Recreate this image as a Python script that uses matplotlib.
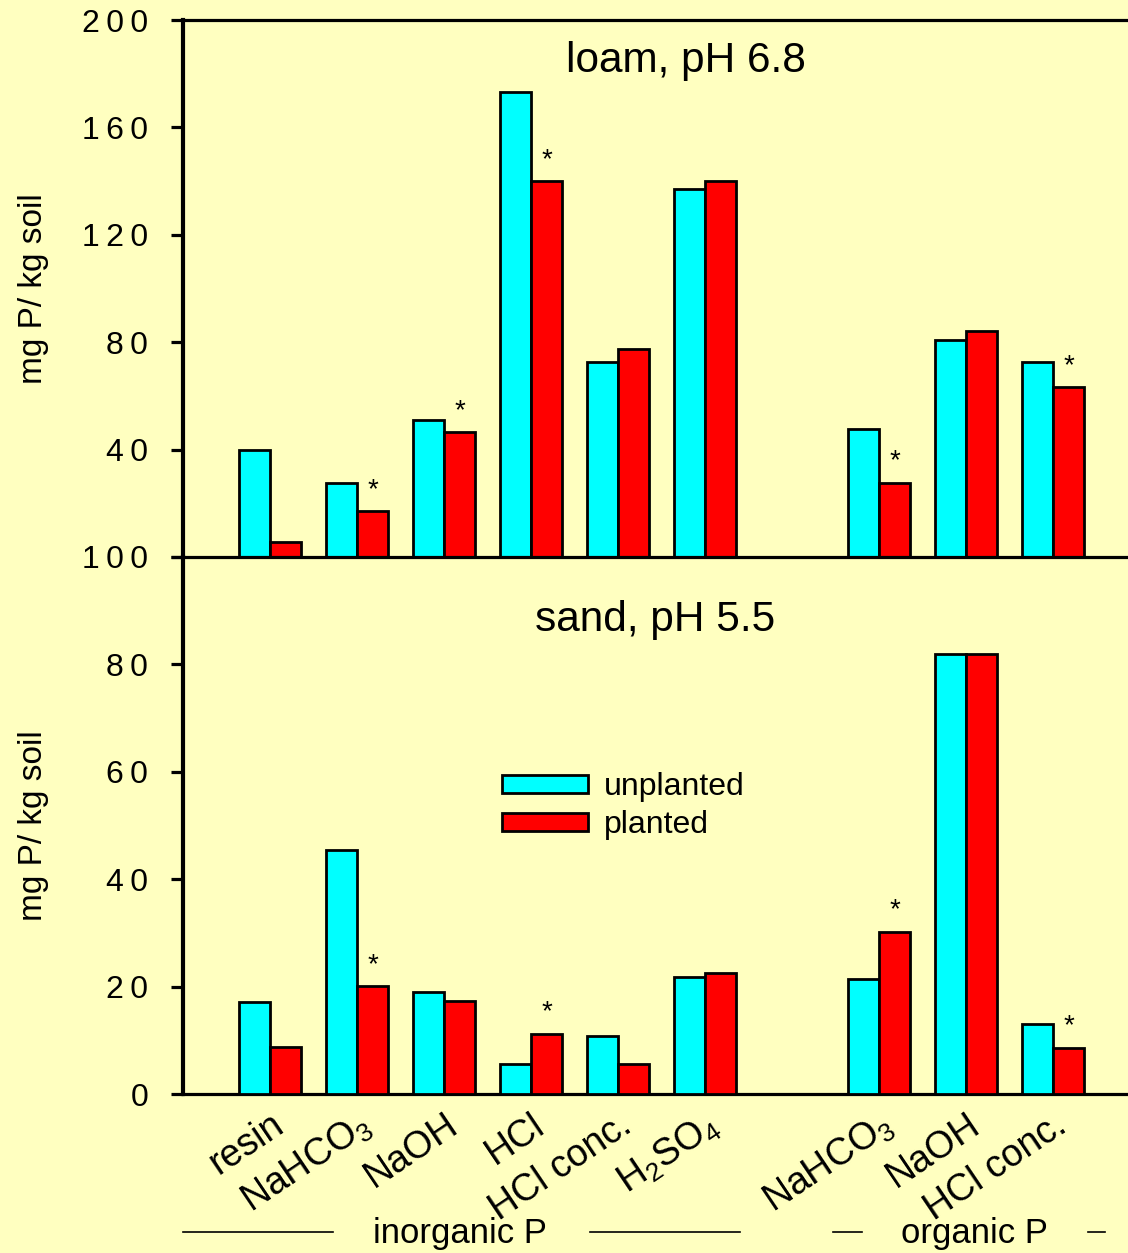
import numpy as np
import matplotlib
matplotlib.use("Agg")
import matplotlib.pyplot as plt
from matplotlib.transforms import blended_transform_factory

plt.rcParams['font.family'] = ['Liberation Sans', 'DejaVu Sans']
plt.rcParams['mathtext.fontset'] = 'custom'
plt.rcParams['mathtext.rm'] = 'Liberation Sans'
plt.rcParams['mathtext.it'] = 'Liberation Sans'

# fractions, position index (slot 6 is left empty between the two groups)
labels = ['resin', 'NaHCO$_3$', 'NaOH', 'HCl', 'HCl conc.', 'H$_2$SO$_4$',
          'NaHCO$_3$', 'NaOH', 'HCl conc.']
slots = [0, 1, 2, 3, 4, 5, 7, 8, 9]

# loam, pH 6.8
loam_unpl = [40, 27.6, 51, 173, 72.5, 137, 47.7, 81, 72.7]
loam_pl = [5.5, 17, 46.5, 140, 77.5, 140, 27.6, 84, 63.3]
loam_sig = [False, True, True, True, False, False, True, False, True]

# sand, pH 5.5
sand_unpl = [17.1, 45.4, 19, 5.5, 10.8, 21.8, 21.4, 82, 13]
sand_pl = [8.7, 20.1, 17.4, 11.2, 5.5, 22.6, 30.2, 82, 8.6]
sand_sig = [False, True, False, True, False, False, True, False, True]

bg = '#FFFFC0'
W, H = 1128, 1253
fig = plt.figure(figsize=(W / 100, H / 100), dpi=100, facecolor=bg)

left = 183 / W
ax1 = fig.add_axes([left, 1 - 557 / H, 1 - left, 537 / H])
ax2 = fig.add_axes([left, 1 - 1094 / H, 1 - left, 537 / H])

bw = 0.36
x = np.array(slots)


def spaced(v):
    # tick labels in the original are drawn with wide letter spacing
    return '\u2009'.join(str(v))


def panel(ax, unpl, pl, sig, ymax, step, title, tx, ty):
    ax.set_facecolor(bg)
    ax.bar(x - bw / 2, unpl, bw, color='#00FFFF', edgecolor='black', lw=2,
           label='unplanted', zorder=3)
    ax.bar(x + bw / 2, pl, bw, color='#FF0000', edgecolor='black', lw=2,
           label='planted', zorder=3)
    for xi, v, s in zip(x, pl, sig):
        if s:
            ax.annotate('*', (xi + bw / 2, v), xytext=(0, 6),
                        textcoords='offset points', ha='center', va='bottom',
                        fontsize=20)
    ax.set_xlim(-1, 9.86)
    ax.set_ylim(0, ymax)
    ticks = np.arange(0, ymax + 1, step)
    ax.set_yticks(ticks, [spaced(t) for t in ticks])
    ax.spines['right'].set_visible(False)
    ax.spines['left'].set_linewidth(3)
    ax.spines['top'].set_linewidth(2.3)
    ax.spines['bottom'].set_linewidth(2.3)
    ax.tick_params(axis='y', direction='out', length=9, width=2.3,
                   labelsize=23, pad=16)
    ax.set_ylabel('mg P/ kg soil', fontsize=24, labelpad=24)
    ax.text(tx, ty, title, transform=fig.transFigure, ha='center',
            va='center', fontsize=30.5)


panel(ax1, loam_unpl, loam_pl, loam_sig, 200, 40, 'loam, pH 6.8',
      686 / W, 1 - 61 / H)
panel(ax2, sand_unpl, sand_pl, sand_sig, 100, 20, 'sand, pH 5.5',
      655 / W, 1 - 620 / H)
ax1.set_yticks(np.arange(0, 201, 40),
               [''] + [spaced(v) for v in range(40, 201, 40)])
ax1.set_xticks([])
ax1.spines['bottom'].set_visible(False)

ax2.set_xticks(x, labels, rotation=34, ha='right', va='top',
               rotation_mode='anchor', fontsize=27)
ax2.tick_params(axis='x', length=0, pad=9)

ax2.legend(loc='upper left', bbox_to_anchor=(486 / W, 1 - 756 / H),
           bbox_transform=fig.transFigure, frameon=False, fontsize=23,
           handlelength=2.7, handleheight=0.5, handletextpad=0.5,
           labelspacing=0.25, borderpad=0)

# group brackets under the category labels
tr = blended_transform_factory(ax2.transData, fig.transFigure)
ly = 1 - 1232 / H
for x0, x1 in [(-1.0, 0.72), (3.68, 5.4), (6.47, 6.8), (9.4, 9.6)]:
    ax2.plot([x0, x1], [ly, ly], color='black', lw=1.2, transform=tr,
             clip_on=False)
ax2.text(2.18, 1 - 1234 / H, 'inorganic P', transform=tr, ha='center',
         va='center', fontsize=25)
ax2.text(8.1, 1 - 1234 / H, 'organic P', transform=tr, ha='center',
         va='center', fontsize=25)

fig.savefig('out.png', dpi=100, facecolor=bg)
